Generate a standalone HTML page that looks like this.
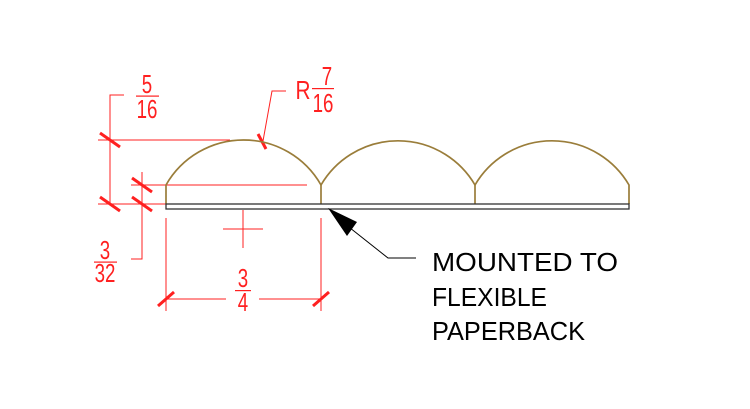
<!DOCTYPE html>
<html><head><meta charset="utf-8"><style>html,body{margin:0;padding:0;background:#fff}svg{display:block}</style></head>
<body>
<svg width="750" height="409" viewBox="0 0 750 409" xmlns="http://www.w3.org/2000/svg">
<g fill="none" stroke="#ff2020" stroke-width="1">
  <line x1="98" y1="140" x2="230" y2="140"/>
  <line x1="98" y1="204" x2="320" y2="204"/>
  <line x1="131" y1="185" x2="307" y2="185"/>
  <polyline points="124,95 110,95 110,204"/>
  <polyline points="142,172 142,259 131,259"/>
  <line x1="223" y1="229" x2="263" y2="229"/>
  <line x1="243" y1="210" x2="243" y2="248"/>
  <line x1="166" y1="218" x2="166" y2="311"/>
  <line x1="321" y1="218" x2="321" y2="311"/>
  <line x1="166" y1="299" x2="226" y2="299"/>
  <line x1="259" y1="299" x2="321" y2="299"/>
  <polyline points="263,141 272,91 286,91"/>
</g>
<g stroke="#ff2020" stroke-width="3">
  <line x1="100" y1="133" x2="120" y2="147"/>
  <line x1="100" y1="197" x2="120" y2="211"/>
  <line x1="132" y1="178" x2="152" y2="192"/>
  <line x1="132" y1="197" x2="152" y2="211"/>
  <line x1="258" y1="134" x2="266" y2="149"/>
  <line x1="158" y1="306" x2="174" y2="292"/>
  <line x1="313" y1="306" x2="329" y2="292"/>
</g>
<g fill="#ff2020" stroke="none" font-family="Liberation Sans, sans-serif" font-size="26" text-anchor="middle">
  <text x="147" y="93" transform="translate(147 0) scale(0.72 1) translate(-147 0)">5</text>
  <rect x="136" y="95.5" width="23" height="1.2"/>
  <text x="147" y="118" transform="translate(147 0) scale(0.72 1) translate(-147 0)">16</text>
  <text x="105" y="259" transform="translate(105 0) scale(0.72 1) translate(-105 0)">3</text>
  <rect x="94" y="261.5" width="23" height="1.2"/>
  <text x="105" y="282" transform="translate(105 0) scale(0.72 1) translate(-105 0)">32</text>
  <text x="243" y="287" transform="translate(243 0) scale(0.72 1) translate(-243 0)">3</text>
  <rect x="235" y="290" width="16" height="1.2"/>
  <text x="243" y="311" transform="translate(243 0) scale(0.72 1) translate(-243 0)">4</text>
  <text x="303" y="99" transform="translate(303 0) scale(0.8 1) translate(-303 0)">R</text>
  <text x="327" y="85" transform="translate(327 0) scale(0.72 1) translate(-327 0)">7</text>
  <rect x="312" y="88" width="22" height="1.2"/>
  <text x="323" y="112" transform="translate(323 0) scale(0.72 1) translate(-323 0)">16</text>
</g>
<g fill="none" stroke="#9a7d3a" stroke-width="1.7">
  <path d="M166,204 L166,185 A89.2,89.2 0 0 1 321,185 A89.2,89.2 0 0 1 475,185 A89.2,89.2 0 0 1 629,185 L629,204"/>
  <line x1="321" y1="185" x2="321" y2="204"/>
  <line x1="475" y1="185" x2="475" y2="204"/>
</g>
<rect x="166" y="204" width="463" height="5" fill="#fff" stroke="#333" stroke-width="1.3"/>
<polyline points="340,220 388,258 416,258" fill="none" stroke="#000" stroke-width="1"/>
<polygon points="328,208 357,222 347,236" fill="#000"/>
<g font-family="Liberation Sans, sans-serif" font-size="26" fill="#000">
  <text x="432" y="271" textLength="186" lengthAdjust="spacingAndGlyphs">MOUNTED TO</text>
  <text x="432" y="306" textLength="115" lengthAdjust="spacingAndGlyphs">FLEXIBLE</text>
  <text x="432" y="340" textLength="153" lengthAdjust="spacingAndGlyphs">PAPERBACK</text>
</g>
</svg>
</body></html>
